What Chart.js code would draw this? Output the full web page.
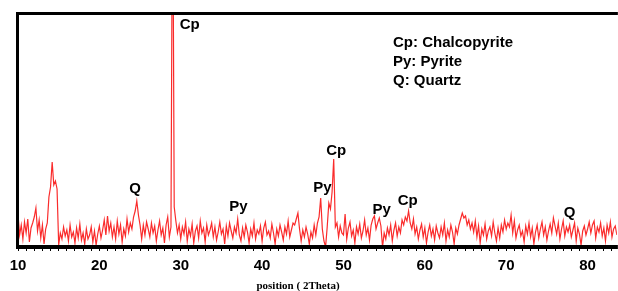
<!DOCTYPE html>
<html>
<head>
<meta charset="utf-8">
<script src="https://cdn.jsdelivr.net/npm/chart.js@4/dist/chart.umd.min.js"></script>
<style>
  html, body { margin: 0; padding: 0; background: #fff; }
  #wrap { width: 618px; height: 291px; }
</style>
</head>
<body>
<div id="wrap"><canvas id="xrd" width="618" height="291"></canvas></div>
<script>
// ---- XRD pattern data (intensity in arbitrary units) ----
const twoThetaStart = 10;
const twoThetaStep = 0.2;
const intensity = [
  33, 12, 22, 8, 25, 14, 28, 5, 19, 24,      // 10
  30, 39, 16, 27, 9, 22, 3, 18, 24, 50,      // 12
  60, 85, 62, 66, 58, 2, 14, 8, 20, 11,      // 14
  17, 6, 22, 10, 15, 4, 19, 9, 23, 7,        // 16
  14, 3, 18, 8, 12, 20, 5, 16, 2, 13,        // 18
  21, 9, 17, 27, 12, 31, 16, 24, 10, 20,     // 20
  8, 26, 13, 22, 5, 18, 11, 28, 15, 24,      // 22
  18, 30, 36, 46, 32, 22, 8, 22, 12, 25,     // 24
  18, 10, 24, 14, 21, 6, 17, 26, 12, 19,     // 26
  4, 22, 30, 10, 20, 400, 40, 26, 14, 22,    // 28
  8, 20, 13, 25, 6, 18, 11, 23, 4, 16,       // 30
  21, 9, 26, 14, 19, 5, 22, 12, 17, 24,      // 32
  10, 20, 7, 15, 25, 13, 18, 3, 21, 11,      // 34
  24, 16, 9, 20, 14, 28, 12, 6, 19, 10,      // 36
  22, 15, 4, 18, 11, 24, 8, 17, 13, 21,      // 38
  6, 19, 25, 12, 16, 9, 23, 14, 3, 18,       // 40
  11, 22, 15, 7, 20, 13, 26, 10, 17, 24,     // 42
  22, 28, 34, 18, 6, 17, 10, 20, 13, 3,      // 44
  15, 9, 22, 12, 24, 30, 49, 18, 6, 0,       // 46
  20, 44, 38, 55, 88, 20, 24, 10, 21, 14,    // 48
  12, 33, 8, 19, 25, 11, 17, 4, 20, 13,      // 50
  23, 9, 16, 27, 12, 19, 7, 22, 28, 31,      // 52
  18, 24, 29, 21, 0, 14, 8, 19, 12, 22,      // 54
  6, 17, 24, 11, 20, 14, 27, 22, 30, 26,     // 56
  36, 24, 18, 28, 13, 20, 8, 17, 23, 10,     // 58
  19, 4, 15, 22, 11, 18, 7, 21, 14, 9,       // 60
  20, 12, 24, 6, 17, 10, 22, 15, 3, 19,      // 62
  13, 22, 28, 34, 29, 31, 22, 27, 18, 24,    // 64
  15, 26, 10, 21, 4, 18, 12, 23, 8, 16,      // 66
  20, 11, 25, 14, 6, 19, 9, 22, 15, 27,      // 68
  18, 24, 20, 32, 14, 26, 9, 17, 22, 11,     // 70
  16, 5, 21, 13, 24, 10, 19, 3, 15, 22,      // 72
  9, 18, 25, 12, 20, 7, 16, 23, 14, 29,      // 74
  21, 13, 24, 8, 18, 26, 11, 20, 15, 22,     // 76
  10, 17, 24, 6, 19, 13, 2, 16, 21, 12,      // 78
  18, 25, 14, 22, 26, 9, 20, 15, 24, 11,     // 80
  19, 6, 22, 14, 25, 10, 18, 21, 12, 17      // 82
];

// x axis
const xMin = 10;
const xMax = 83.6;
const yMax = 233;
const tickLabels = [10, 20, 30, 40, 50, 60, 70, 80];

// phase labels above the peaks (2theta, height)
const peakNames = ['Cp', 'Q', 'Py', 'Py', 'Cp', 'Py', 'Cp', 'Q'];
const peakTheta = [31.1, 24.4, 37.1, 47.4, 49.1, 54.7, 57.9, 77.8];
const peakHeight = [218, 54, 36, 55, 92, 33, 42, 30];

// key in the upper right
const keyLines = ['Cp: Chalcopyrite', 'Py: Pyrite', 'Q: Quartz'];

const points = intensity.map((v, i) => ({ x: +(twoThetaStart + i * twoThetaStep).toFixed(1), y: v }));

/**
 * Frame, phase labels, key and axis caption
 */
const decorations = {
    id: 'decorations',
    afterDraw(chart) {
        const { ctx, chartArea: a, scales: { x, y } } = chart;
        ctx.save();

        // frame: top, left, bottom
        ctx.fillStyle = '#000';
        ctx.fillRect(a.left - 2, a.top - 2, a.right - a.left + 3, 3);
        ctx.fillRect(a.left - 2, a.top - 2, 3, a.bottom - a.top + 4);
        ctx.fillRect(a.left - 2, a.bottom - 2, a.right - a.left + 3, 4);

        // peak labels
        ctx.font = 'bold 15px "Liberation Sans", Arial, sans-serif';
        ctx.textAlign = 'center';
        ctx.textBaseline = 'alphabetic';
        peakNames.forEach((name, i) => {
            ctx.fillText(name, x.getPixelForValue(peakTheta[i]), y.getPixelForValue(peakHeight[i]));
        });

        // key
        ctx.font = 'bold 15px "Liberation Sans", Arial, sans-serif';
        ctx.textAlign = 'left';
        keyLines.forEach((line, i) => {
            ctx.fillText(line, 393, 47 + i * 19);
        });

        // axis caption
        ctx.font = 'bold 11px "Liberation Serif", "Times New Roman", serif';
        ctx.textAlign = 'center';
        ctx.fillText('position ( 2Theta)', 298, 289);

        ctx.restore();
    }
};

const ctx = document.getElementById('xrd').getContext('2d');
new Chart(ctx, {
    type: 'line',
    data: {
        datasets: [{
            label: 'XRD',
            data: points,
            borderColor: 'rgba(250, 20, 20, 0.9)',
            borderWidth: 1.2,
            pointRadius: 0,
            tension: 0,
            fill: false
        }]
    },
    options: {
        responsive: false,
        animation: false,
        layout: { padding: { left: 18, right: 1, top: 14, bottom: 0 } },
        plugins: {
            legend: { display: false },
            tooltip: { enabled: false }
        },
        scales: {
            x: {
                type: 'linear',
                min: xMin,
                max: xMax,
                afterFit: function(scale) { scale.height = 44; },
                border: { display: false },
                grid: {
                    drawOnChartArea: false,
                    drawTicks: true,
                    tickLength: 4,
                    color: '#000'
                },
                ticks: {
                    stepSize: 1,
                    autoSkip: false,
                    maxTicksLimit: 100,
                    includeBounds: false,
                    maxRotation: 0,
                    padding: 6,
                    color: '#000',
                    font: { family: '"Liberation Sans", Arial, sans-serif', size: 15, weight: 'bold' },
                    callback: function(value) {
                        return tickLabels.includes(value) ? String(value) : '';
                    }
                }
            },
            y: {
                display: false,
                min: 0,
                max: yMax
            }
        }
    },
    plugins: [decorations]
});
</script>
</body>
</html>
